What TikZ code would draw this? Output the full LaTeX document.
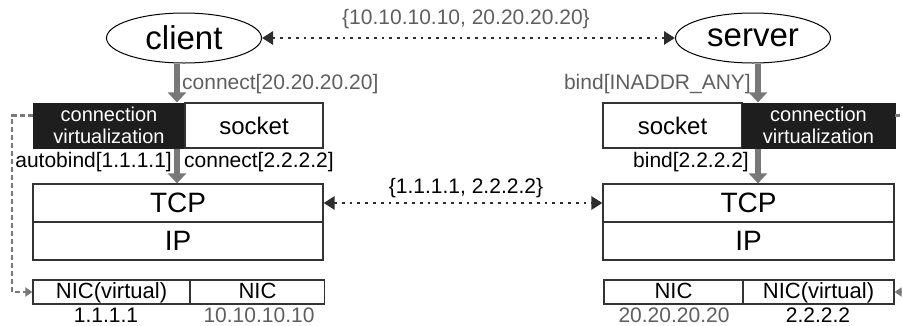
\documentclass[tikz,border=0pt]{standalone}
\usepackage{fontspec}
\setmainfont{Liberation Sans}
\usetikzlibrary{shapes.geometric,arrows.meta,calc}
\definecolor{arrgray}{RGB}{120,120,120}
\definecolor{txtgray}{RGB}{95,95,95}
\definecolor{boxblack}{RGB}{30,30,30}
\definecolor{dotdark}{RGB}{45,45,45}
\newcommand{\fsz}[1]{\fontsize{#1}{#1}\selectfont}
\tikzset{
  endpoint/.style={ellipse,draw=black,line width=1pt,minimum width=155pt,minimum height=50pt,inner sep=0pt,font=\fsz{33}},
  layerbox/.style={draw=black!80,line width=1.2pt,inner sep=0pt,font=\fsz{28}},
  cvbox/.style={fill=boxblack,draw=boxblack,text=white,inner sep=0pt,minimum height=45pt,align=center,font=\fontsize{20}{22}\selectfont},
  sockbox/.style={draw=black!80,line width=1.2pt,fill=white,inner sep=0pt,minimum height=45pt,font=\fsz{24}},
  nicbox/.style={draw=black!80,line width=1.2pt,inner sep=0pt,minimum height=24pt,font=\fsz{22},text depth=2pt},
  graylbl/.style={text=txtgray,inner sep=0pt,font=\fsz{21}},
  blacklbl/.style={text=black,inner sep=0pt,font=\fsz{21}},
  bigarrow/.style={draw=arrgray,line width=6pt,-{Triangle[width=18pt,length=10pt]}},
  dotarrow/.style={draw=dotdark,line width=2.8pt,dash pattern=on 2.8pt off 5pt,{Triangle[width=13pt,length=11pt]}-{Triangle[width=13pt,length=11pt]}},
  dashline/.style={draw=arrgray,line width=2.5pt,dash pattern=on 5pt off 3pt},
  dasharrow/.style={dashline,-{Triangle[width=9pt,length=7pt]}},
}
\begin{document}
\begin{tikzpicture}[x=1pt,y=-1pt]
\useasboundingbox (0,0) rectangle (902,325);
% endpoints
\node[endpoint] (client) at (184,38) {client};
\node[endpoint] (server) at (753,38) {server};
% left stack
\node[cvbox,minimum width=152pt] (lcv) at (109,125.5) {connection\\virtualization};
\node[sockbox,minimum width=138pt] (lsock) at (254,125.5) {socket};
\node[layerbox,minimum width=290pt,minimum height=38pt] (ltcp) at (178,203) {TCP};
\node[layerbox,minimum width=290pt,minimum height=38pt] (lip) at (178,241) {IP};
\node[nicbox,minimum width=157pt] (lnicv) at (111.5,292) {NIC(virtual)};
\node[nicbox,minimum width=134pt] (lnic) at (257.5,292) {NIC};
% right stack
\node[sockbox,minimum width=139pt] (rsock) at (672.5,125.5) {socket};
\node[cvbox,minimum width=153pt] (rcv) at (818.5,125.5) {connection\\virtualization};
\node[layerbox,minimum width=291pt,minimum height=38pt] (rtcp) at (748.5,203) {TCP};
\node[layerbox,minimum width=291pt,minimum height=38pt] (rip) at (748.5,241) {IP};
\node[nicbox,minimum width=139pt] (rnic) at (673.5,292) {NIC};
\node[nicbox,minimum width=151pt] (rnicv) at (818.5,292) {NIC(virtual)};
% addresses under NICs
\node[blacklbl] (a1) at (106,315) {1.1.1.1};
\node[graylbl] (a2) at (259,315) {10.10.10.10};
\node[graylbl] (a3) at (674,315) {20.20.20.20};
\node[blacklbl] (a4) at (818,315) {2.2.2.2};
% coordinates for thick arrows
\coordinate (lx) at (177,0);
\coordinate (rx) at (758,0);
\draw[bigarrow] (client.south -| lx) -- (lsock.north -| lx);
\draw[bigarrow] (lsock.south -| lx) -- (ltcp.north -| lx);
\draw[bigarrow] (server.south -| rx) -- (rsock.north -| rx);
\draw[bigarrow] (rsock.south -| rx) -- (rtcp.north -| rx);
% labels of calls
\node[graylbl,anchor=west] (l1) at (182,84) {connect[20.20.20.20]};
\node[blacklbl,anchor=east] (l2) at (172,162) {autobind[1.1.1.1]};
\node[blacklbl,anchor=west] (l3) at (184,162) {connect[2.2.2.2]};
\node[graylbl,anchor=east] (l4) at (751,84) {bind[INADDR\_ANY]};
\node[blacklbl,anchor=east] (l5) at (749,162) {bind[2.2.2.2]};
% dotted arrows
\draw[dotarrow] (client.east) -- (server.west);
\node[graylbl] (t1) at (466,19) {\{10.10.10.10, 20.20.20.20\}};
\draw[dotarrow] (ltcp.east) -- (rtcp.west);
\node[blacklbl] (t2) at (466,188) {\{1.1.1.1, 2.2.2.2\}};
% dashed virtualization links
\coordinate (lcorner) at (12,0);
\coordinate (ledge) at (902,0);
\draw[dasharrow] ([yshift=10pt]lcv.west) -| ($(lnicv.west -| lcorner)$) -- (lnicv.west);
\draw[dashline] ([yshift=10pt]rcv.east) -- ([yshift=10pt]rcv.east -| ledge);
\draw[dasharrow] (rnicv.east -| ledge) -- (rnicv.east);
\end{tikzpicture}
\end{document}
